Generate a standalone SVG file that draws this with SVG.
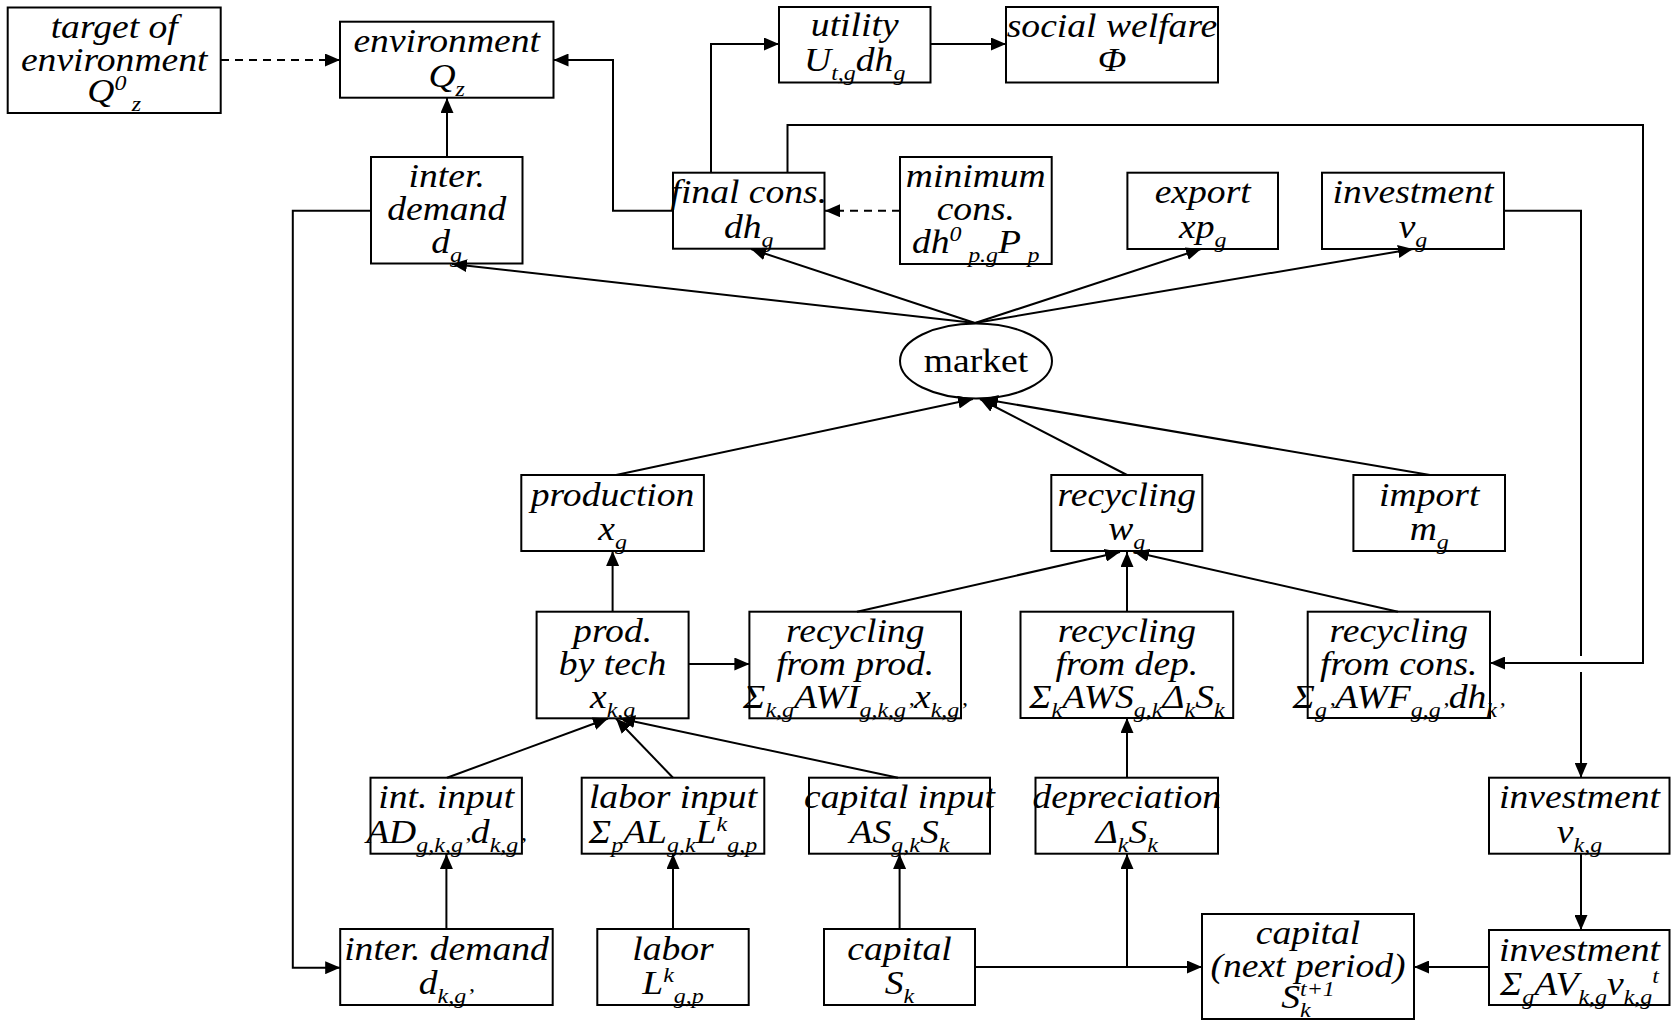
<svg xmlns="http://www.w3.org/2000/svg" width="1671" height="1021" viewBox="0 0 1671 1021">
<style>
.box{fill:#fff;stroke:#000;stroke-width:2}
.t{font-family:"Liberation Serif","Times New Roman",serif;font-style:italic;font-size:34.5px;text-anchor:middle;fill:#000}
.n{font-style:normal}
.sb{font-size:22px}
.c{fill:none;stroke:#000;stroke-width:2}
.d{stroke-dasharray:8 6}
</style>
<defs>
<marker id="ar" markerUnits="userSpaceOnUse" viewBox="0 0 15 13" markerWidth="15" markerHeight="13" refX="15" refY="6.5" orient="auto">
<path d="M0,0 L15,6.5 L0,13 z" fill="#000"/>
</marker>
</defs>
<rect width="1671" height="1021" fill="#fff"/>

<g id="n-target"><rect class="box" x="7.7" y="7.5" width="213" height="105.5"/>
<text class="t" transform="translate(114.2,37.5) scale(1.09,1)">target of</text>
<text class="t" transform="translate(114.2,70.5) scale(1.09,1)">environment</text>
<text class="t" transform="translate(114.2,102) scale(1.09,1)">Q<tspan class="sb" dy="-12">0</tspan><tspan class="sb" dx="5" dy="21">z</tspan></text></g>

<g id="n-environment"><rect class="box" x="340" y="21.7" width="213.5" height="76"/>
<text class="t" transform="translate(446.7,51.7) scale(1.09,1)">environment</text>
<text class="t" transform="translate(446.7,86.7) scale(1.09,1)">Q<tspan class="sb" dy="9">z</tspan></text></g>

<g id="n-utility"><rect class="box" x="779" y="7" width="151.5" height="75.5"/>
<text class="t" transform="translate(854.7,36) scale(1.09,1)">utility</text>
<text class="t" transform="translate(854.7,71) scale(1.09,1)">U<tspan class="sb" dy="9">t,g</tspan><tspan dy="-9">dh</tspan><tspan class="sb" dy="9">g</tspan></text></g>

<g id="n-welfare"><rect class="box" x="1006" y="7" width="212" height="75.5"/>
<text class="t" transform="translate(1112,37) scale(1.09,1)">social welfare</text>
<text class="t" transform="translate(1112,71) scale(1.09,1)">Φ</text></g>

<g id="n-interdemand"><rect class="box" x="371" y="157" width="151.5" height="106.5"/>
<text class="t" transform="translate(446.7,186.5) scale(1.09,1)">inter.</text>
<text class="t" transform="translate(446.7,220) scale(1.09,1)">demand</text>
<text class="t" transform="translate(446.7,253.3) scale(1.09,1)">d<tspan class="sb" dy="9">g</tspan></text></g>

<g id="n-finalcons"><rect class="box" x="673" y="172.7" width="151.5" height="76"/>
<text class="t" transform="translate(748.8,202.7) scale(1.09,1)">final cons.</text>
<text class="t" transform="translate(748.8,237.7) scale(1.09,1)">dh<tspan class="sb" dy="9">g</tspan></text></g>

<g id="n-mincons"><rect class="box" x="900" y="157" width="151.7" height="107"/>
<text class="t" transform="translate(975.8,186.5) scale(1.09,1)">minimum</text>
<text class="t" transform="translate(975.8,220) scale(1.09,1)">cons.</text>
<text class="t" transform="translate(975.8,253.3) scale(1.09,1)">dh<tspan class="sb" dy="-12">0</tspan><tspan class="sb" dx="6" dy="21">p.g</tspan><tspan dy="-9">P</tspan><tspan class="sb" dx="6" dy="9">p</tspan></text></g>

<g id="n-export"><rect class="box" x="1127.4" y="172.7" width="150.6" height="76.3"/>
<text class="t" transform="translate(1202.7,202.7) scale(1.09,1)">export</text>
<text class="t" transform="translate(1202.7,237.7) scale(1.09,1)">xp<tspan class="sb" dy="9">g</tspan></text></g>

<g id="n-invest-g"><rect class="box" x="1322" y="172.7" width="182" height="76.3"/>
<text class="t" transform="translate(1413,202.7) scale(1.09,1)">investment</text>
<text class="t" transform="translate(1413,237.7) scale(1.09,1)">v<tspan class="sb" dy="9">g</tspan></text></g>

<g id="n-market"><ellipse class="box" cx="976" cy="361" rx="76" ry="37.5"/>
<text class="t n" transform="translate(976,372) scale(1.09,1)">market</text></g>

<g id="n-production"><rect class="box" x="521.3" y="475" width="182.6" height="76"/>
<text class="t" transform="translate(612.6,505.5) scale(1.09,1)">production</text>
<text class="t" transform="translate(612.6,540) scale(1.09,1)">x<tspan class="sb" dy="9">g</tspan></text></g>

<g id="n-recycling"><rect class="box" x="1051.3" y="475" width="151" height="76"/>
<text class="t" transform="translate(1126.8,505.5) scale(1.09,1)">recycling</text>
<text class="t" transform="translate(1126.8,540) scale(1.09,1)">w<tspan class="sb" dy="9">g</tspan></text></g>

<g id="n-import"><rect class="box" x="1353.4" y="475" width="151.6" height="76"/>
<text class="t" transform="translate(1429.2,505.5) scale(1.09,1)">import</text>
<text class="t" transform="translate(1429.2,540) scale(1.09,1)">m<tspan class="sb" dy="9">g</tspan></text></g>

<g id="n-prodtech"><rect class="box" x="536.6" y="611.7" width="152" height="106.6"/>
<text class="t" transform="translate(612.6,642) scale(1.09,1)">prod.</text>
<text class="t" transform="translate(612.6,675) scale(1.09,1)">by tech</text>
<text class="t" transform="translate(612.6,708) scale(1.09,1)">x<tspan class="sb" dy="9">k,g</tspan></text></g>

<g id="n-recprod"><rect class="box" x="749.4" y="611.7" width="211.6" height="106.6"/>
<text class="t" transform="translate(855.2,642) scale(1.09,1)">recycling</text>
<text class="t" transform="translate(855.2,675) scale(1.09,1)">from prod.</text>
<text class="t" transform="translate(855.2,708) scale(1.09,1)">Σ<tspan class="sb" dy="9">k,g</tspan><tspan dy="-9">AWI</tspan><tspan class="sb" dy="9">g,k,g’</tspan><tspan dy="-9">x</tspan><tspan class="sb" dy="9">k,g’</tspan></text></g>

<g id="n-recdep"><rect class="box" x="1020.5" y="611.7" width="212.7" height="106.3"/>
<text class="t" transform="translate(1126.9,642) scale(1.09,1)">recycling</text>
<text class="t" transform="translate(1126.9,675) scale(1.09,1)">from dep.</text>
<text class="t" transform="translate(1126.9,708) scale(1.09,1)">Σ<tspan class="sb" dy="9">k</tspan><tspan dy="-9">AWS</tspan><tspan class="sb" dy="9">g,k</tspan><tspan dy="-9">Δ</tspan><tspan class="sb" dy="9">k</tspan><tspan dy="-9">S</tspan><tspan class="sb" dy="9">k</tspan></text></g>

<g id="n-reccons"><rect class="box" x="1307.7" y="611.7" width="182.3" height="106.3"/>
<text class="t" transform="translate(1398.8,642) scale(1.09,1)">recycling</text>
<text class="t" transform="translate(1398.8,675) scale(1.09,1)">from cons.</text>
<text class="t" transform="translate(1398.8,708) scale(1.09,1)">Σ<tspan class="sb" dy="9">g’</tspan><tspan dy="-9">AWF</tspan><tspan class="sb" dy="9">g,g’</tspan><tspan dy="-9">dh</tspan><tspan class="sb" dy="9">k’</tspan></text></g>

<g id="n-intinput"><rect class="box" x="370.5" y="777.7" width="151.4" height="76"/>
<text class="t" transform="translate(446.2,808) scale(1.09,1)">int. input</text>
<text class="t" transform="translate(446.2,842.7) scale(1.09,1)">AD<tspan class="sb" dy="9">g,k,g’</tspan><tspan dy="-9">d</tspan><tspan class="sb" dy="9">k,g’</tspan></text></g>

<g id="n-laborinput"><rect class="box" x="581.7" y="777.7" width="182.6" height="76"/>
<text class="t" transform="translate(673,808) scale(1.09,1)">labor input</text>
<text class="t" transform="translate(673,842.7) scale(1.09,1)">Σ<tspan class="sb" dy="9">p</tspan><tspan dy="-9">AL</tspan><tspan class="sb" dy="9">g,k</tspan><tspan dy="-9">L</tspan><tspan class="sb" dy="-12">k</tspan><tspan class="sb" dy="21">g,p</tspan></text></g>

<g id="n-capinput"><rect class="box" x="809" y="777.7" width="181" height="76"/>
<text class="t" transform="translate(899.5,808) scale(1.09,1)">capital input</text>
<text class="t" transform="translate(899.5,842.7) scale(1.09,1)">AS<tspan class="sb" dy="9">g,k</tspan><tspan dy="-9">S</tspan><tspan class="sb" dy="9">k</tspan></text></g>

<g id="n-depreciation"><rect class="box" x="1035.5" y="777.7" width="182.5" height="76"/>
<text class="t" transform="translate(1126.8,808) scale(1.09,1)">depreciation</text>
<text class="t" transform="translate(1126.8,842.7) scale(1.09,1)">Δ<tspan class="sb" dy="9">k</tspan><tspan dy="-9">S</tspan><tspan class="sb" dy="9">k</tspan></text></g>

<g id="n-invest-kg"><rect class="box" x="1489" y="777.7" width="180.5" height="76"/>
<text class="t" transform="translate(1579.5,808) scale(1.09,1)">investment</text>
<text class="t" transform="translate(1579.5,842.7) scale(1.09,1)">v<tspan class="sb" dy="9">k,g</tspan></text></g>

<g id="n-interdemand-kg"><rect class="box" x="340.2" y="929" width="212.5" height="76"/>
<text class="t" transform="translate(446.5,959.5) scale(1.09,1)">inter. demand</text>
<text class="t" transform="translate(446.5,994) scale(1.09,1)">d<tspan class="sb" dy="9">k,g’</tspan></text></g>

<g id="n-labor"><rect class="box" x="597.3" y="929" width="151.4" height="76"/>
<text class="t" transform="translate(673,959.5) scale(1.09,1)">labor</text>
<text class="t" transform="translate(673,994) scale(1.09,1)">L<tspan class="sb" dy="-12">k</tspan><tspan class="sb" dy="21">g,p</tspan></text></g>

<g id="n-capital"><rect class="box" x="824" y="929" width="151" height="76"/>
<text class="t" transform="translate(899.5,959.5) scale(1.09,1)">capital</text>
<text class="t" transform="translate(899.5,994) scale(1.09,1)">S<tspan class="sb" dy="9">k</tspan></text></g>

<g id="n-capnext"><rect class="box" x="1202" y="914" width="212" height="105"/>
<text class="t" transform="translate(1308,943.5) scale(1.09,1)">capital</text>
<text class="t" transform="translate(1308,976.5) scale(1.09,1)">(next period)</text>
<text class="t" transform="translate(1308,1008) scale(1.09,1)">S<tspan class="sb" dy="9">k</tspan><tspan class="sb" dx="-9.8" dy="-21">t+1</tspan></text></g>

<g id="n-invest-av"><rect class="box" x="1489" y="930" width="180.5" height="75"/>
<text class="t" transform="translate(1579.5,960.5) scale(1.09,1)">investment</text>
<text class="t" transform="translate(1579.5,995) scale(1.09,1)">Σ<tspan class="sb" dy="9">g</tspan><tspan dy="-9">AV</tspan><tspan class="sb" dy="9">k,g</tspan><tspan dy="-9">v</tspan><tspan class="sb" dy="9">k,g</tspan><tspan class="sb" dy="-21">t</tspan></text></g>

<g id="connectors">
<path class="c d" d="M221,60 H340" marker-end="url(#ar)"/>
<path class="c" d="M447,157 V98" marker-end="url(#ar)"/>
<path class="c" d="M673,210.7 H613 V60 H553.5" marker-end="url(#ar)"/>
<path class="c" d="M711,172.7 V44 H779" marker-end="url(#ar)"/>
<path class="c" d="M930.5,44 H1006" marker-end="url(#ar)"/>
<path class="c" d="M787.5,172.7 V125 H1643 V663 H1490" marker-end="url(#ar)"/>
<path class="c d" d="M900,210.7 H825" marker-end="url(#ar)"/>
<path class="c" d="M1504,210.7 H1581 V656"/>
<path class="c" d="M1581,672 V777.7" marker-end="url(#ar)"/>
<path class="c" d="M975,323 L452,264" marker-end="url(#ar)"/>
<path class="c" d="M975,323 L751,249" marker-end="url(#ar)"/>
<path class="c" d="M975,323 L1201,249" marker-end="url(#ar)"/>
<path class="c" d="M975,323 L1413,249" marker-end="url(#ar)"/>
<path class="c" d="M616,475 L973,399" marker-end="url(#ar)"/>
<path class="c" d="M1127,475 L980,399" marker-end="url(#ar)"/>
<path class="c" d="M1430,475 L983,399" marker-end="url(#ar)"/>
<path class="c" d="M612.6,611.7 V551" marker-end="url(#ar)"/>
<path class="c" d="M688.6,664 H749.4" marker-end="url(#ar)"/>
<path class="c" d="M857,611.7 L1120,552" marker-end="url(#ar)"/>
<path class="c" d="M1127,611.7 V552" marker-end="url(#ar)"/>
<path class="c" d="M1398,611.7 L1134,552" marker-end="url(#ar)"/>
<path class="c" d="M447,777.7 L608,718.5" marker-end="url(#ar)"/>
<path class="c" d="M673,777.7 L616,718.5" marker-end="url(#ar)"/>
<path class="c" d="M898,777.7 L620,718.5" marker-end="url(#ar)"/>
<path class="c" d="M446.4,929 V854" marker-end="url(#ar)"/>
<path class="c" d="M673,929 V854" marker-end="url(#ar)"/>
<path class="c" d="M899.6,929 V854" marker-end="url(#ar)"/>
<path class="c" d="M1127,777.7 V718" marker-end="url(#ar)"/>
<path class="c" d="M975,967 H1202" marker-end="url(#ar)"/>
<path class="c" d="M1127,967 V854" marker-end="url(#ar)"/>
<path class="c" d="M1489,967 H1414" marker-end="url(#ar)"/>
<path class="c" d="M1581,854 V930" marker-end="url(#ar)"/>
<path class="c" d="M371,210.7 H292.8 V967.7 H340.2" marker-end="url(#ar)"/>
</g>
</svg>
